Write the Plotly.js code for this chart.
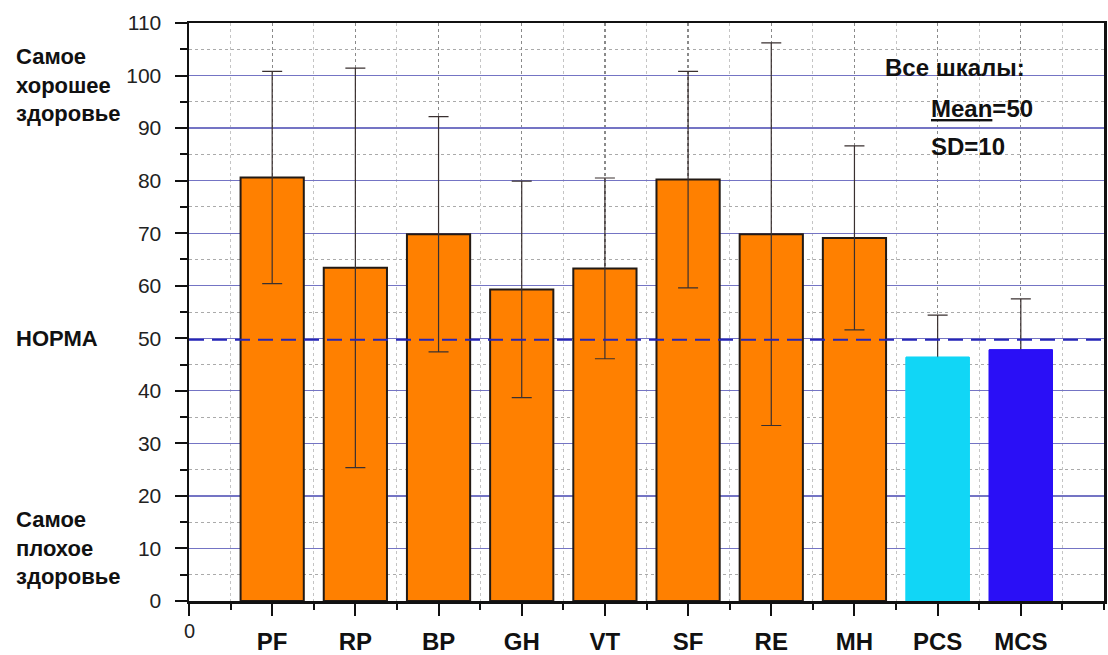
<!DOCTYPE html>
<html>
<head>
<meta charset="utf-8">
<script src="https://cdn.plot.ly/plotly-3.0.1.min.js"></script>
<style>
  html, body { margin: 0; padding: 0; background: #ffffff; }
  #chart { width: 1108px; height: 655px; }
</style>
</head>
<body>
<div id="chart"></div>
<script>
// ---- data ----
const categories = ["PF", "RP", "BP", "GH", "VT", "SF", "RE", "MH", "PCS", "MCS"];
const means      = [80.6, 63.4, 69.8, 59.3, 63.3, 80.2, 69.8, 69.1, 46.4, 47.8];
const sds        = [20.2, 38.0, 22.4, 20.6, 17.2, 20.6, 36.4, 17.5, 8.0, 9.7];
const barColors  = ["#ff8000", "#ff8000", "#ff8000", "#ff8000", "#ff8000",
                    "#ff8000", "#ff8000", "#ff8000", "#11d6f6", "#2a0ff6"];
const normLevel  = 49.7;
const yTickVals  = [0, 10, 20, 30, 40, 50, 60, 70, 80, 90, 100, 110];
const leftNotes  = [
  { text: "Самое<br>хорошее<br>здоровье", y: 85 },
  { text: "НОРМА", y: 338 },
  { text: "Самое<br>плохое<br>здоровье", y: 548 }
];

const positions = categories.map((c, i) => i + 1);
const FONT = "Liberation Sans, Arial, sans-serif";
const isOrange = barColors.map(c => c === "#ff8000");

const trace = {
  type: "bar",
  x: positions,
  y: means,
  width: 0.76,
  marker: {
    color: barColors,
    line: {
      color: barColors.map((c, i) => isOrange[i] ? "#231a14" : c),
      width: barColors.map((c, i) => isOrange[i] ? 2 : 1)
    }
  },
  error_y: {
    type: "data",
    array: sds,
    visible: true,
    color: "#3a3030",
    thickness: 1.2,
    width: 10
  },
  hoverinfo: "skip",
  showlegend: false
};

// In the original the opaque PCS / MCS bars hide their lower whiskers:
// redraw those two bars on top (same data, no error bars).
const coverIdx = positions.map((p, i) => i).filter(i => !isOrange[i]);
const cover = {
  type: "bar",
  x: coverIdx.map(i => positions[i]),
  y: coverIdx.map(i => means[i]),
  width: 0.76,
  marker: {
    color: coverIdx.map(i => barColors[i]),
    line: { color: coverIdx.map(i => barColors[i]), width: 1 }
  },
  hoverinfo: "skip",
  showlegend: false
};

const annotations = leftNotes.map(n => ({
  xref: "paper", yref: "paper",
  x: (14 - 189) / (1104 - 189),
  y: 1 - (n.y - 23) / (601 - 23),
  xanchor: "left", yanchor: "middle", align: "left",
  showarrow: false,
  text: n.text,
  font: { family: FONT, size: 22, color: "#111", weight: "bold" }
}));

annotations.push({
  xref: "x", yref: "paper", x: 0, y: 1 - (631 - 23) / (601 - 23),
  xanchor: "center", yanchor: "middle", showarrow: false,
  text: "0", font: { family: FONT, size: 20, color: "#222" }
});

const boxTexts = [
  { text: "Все шкалы:", x: 883, y: 68 },
  { text: "<u>Mean</u>=50", x: 929, y: 108 },
  { text: "SD=10", x: 929, y: 146 }
];
boxTexts.forEach(t => annotations.push({
  xref: "paper", yref: "paper",
  x: (t.x - 189) / (1104 - 189),
  y: 1 - (t.y - 23) / (601 - 23),
  xanchor: "left", yanchor: "middle", showarrow: false,
  text: t.text,
  font: { family: FONT, size: 24, color: "#111", weight: "bold" }
}));

const layout = {
  width: 1108, height: 655,
  margin: { l: 189, r: 4, t: 23, b: 54, pad: 0 },
  paper_bgcolor: "#ffffff",
  plot_bgcolor: "#ffffff",
  barmode: "overlay",
  xaxis: {
    range: [0, 11],
    tickmode: "array",
    tickvals: [0].concat(positions),
    ticktext: [""].concat(categories),
    tickfont: { family: FONT, size: 24, color: "#111", weight: "bold" },
    ticks: "outside", ticklen: 12, tickwidth: 2, tickcolor: "#111",
    ticklabelstandoff: 6,
    showline: true, mirror: true, linecolor: "#111", linewidth: 2.5,
    showgrid: true, gridcolor: "#8a8a8a", griddash: "dot", gridwidth: 1.3,
    zeroline: false,
    minor: {
      tickmode: "linear", tick0: 0, dtick: 0.5,
      ticks: "outside", ticklen: 6, tickwidth: 2, tickcolor: "#111",
      showgrid: true, gridcolor: "#c4c4c4", griddash: "dot", gridwidth: 1
    },
    automargin: false, fixedrange: true
  },
  yaxis: {
    range: [0, 110],
    tickmode: "array",
    tickvals: yTickVals,
    ticktext: yTickVals.map(String),
    tickfont: { family: FONT, size: 21, color: "#222" },
    ticks: "outside", ticklen: 12, tickwidth: 2, tickcolor: "#111",
    ticklabelstandoff: 9,
    showline: true, mirror: true, linecolor: "#111", linewidth: 2.5,
    showgrid: true, gridcolor: "#7474c4", gridwidth: 1.2,
    zeroline: false,
    minor: {
      tickmode: "linear", tick0: 0, dtick: 5,
      ticks: "outside", ticklen: 7, tickwidth: 2, tickcolor: "#111",
      showgrid: true, gridcolor: "#aaaaaa", griddash: "dot", gridwidth: 1
    },
    automargin: false, fixedrange: true
  },
  shapes: [
    {
      type: "rect", layer: "between",
      xref: "paper", yref: "paper",
      x0: (870 - 189) / (1104 - 189), x1: (1077 - 189) / (1104 - 189),
      y0: 1 - (165 - 23) / (601 - 23), y1: 1 - (42 - 23) / (601 - 23),
      fillcolor: "#ffffff", line: { width: 0 }
    },
    {
      type: "line", layer: "above",
      xref: "paper", yref: "y",
      x0: 0, x1: 1, y0: normLevel, y1: normLevel,
      line: { color: "#2525b8", width: 2, dash: "15px,8px" }
    }
  ],
  annotations: annotations
};

Plotly.newPlot("chart", [trace, cover], layout, { displayModeBar: false, staticPlot: true });
</script>
</body>
</html>
